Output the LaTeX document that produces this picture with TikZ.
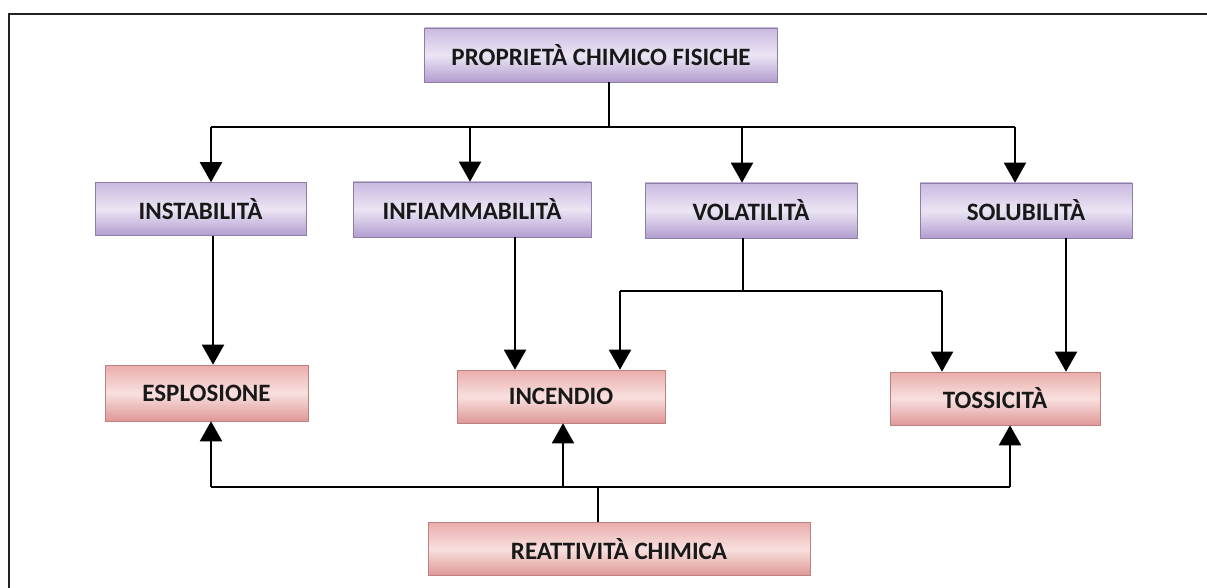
\documentclass[tikz,border=0pt]{standalone}
\usepackage{fontspec}
\setmainfont{Carlito}
\usetikzlibrary{arrows.meta}
\definecolor{pTop}{HTML}{C9B9E0}
\definecolor{pMid}{HTML}{ECE5F4}
\definecolor{pBot}{HTML}{B29DD0}
\definecolor{rTop}{HTML}{E9ADAB}
\definecolor{rMid}{HTML}{F8E0DF}
\definecolor{rBot}{HTML}{DE9896}
\definecolor{frameC}{HTML}{222222}
\tikzset{
  box/.style={rectangle, inner sep=0pt, font=\fontsize{25}{25}\selectfont\bfseries, text=black!90},
  pbox/.style={box, top color=pTop, bottom color=pBot, middle color=pMid, draw=pBot!80!black, line width=0.6pt},
  rbox/.style={box, top color=rTop, bottom color=rBot, middle color=rMid, draw=rBot!85!black, line width=0.6pt},
  conn/.style={line width=2pt, black},
  arr/.style={conn, -{Triangle[width=22pt,length=20pt]}},
}
\begin{document}
\begin{tikzpicture}[x=1pt,y=-1pt]
\useasboundingbox (0,0) rectangle (1207,588);
% open frame
\draw[frameC, line width=2pt] (8.5,588) -- (8.5,14) -- (1207,14);
% nodes
\node[pbox, minimum width=353pt, minimum height=54pt] (top) at (601,55) {PROPRIETÀ CHIMICO FISICHE};
\node[pbox, minimum width=211pt, minimum height=53pt] (inst) at (200.5,209) {INSTABILITÀ};
\node[pbox, minimum width=238pt, minimum height=55pt] (infi) at (472,209.5) {INFIAMMABILITÀ};
\node[pbox, minimum width=212pt, minimum height=55pt] (vol) at (751,210.5) {VOLATILITÀ};
\node[pbox, minimum width=212pt, minimum height=55pt] (sol) at (1026,210.5) {SOLUBILITÀ};
\node[rbox, minimum width=203pt, minimum height=56pt] (espl) at (206.5,393) {ESPLOSIONE};
\node[rbox, minimum width=208pt, minimum height=53pt] (inc) at (561,396.5) {INCENDIO};
\node[rbox, minimum width=210pt, minimum height=53pt] (toss) at (995,398.5) {TOSSICITÀ};
\node[rbox, minimum width=382pt, minimum height=53pt] (reatt) at (619,549) {REATTIVITÀ CHIMICA};
% coordinates
\coordinate (j1) at (609,127);
\coordinate (a1) at (211,127);
\coordinate (a2) at (470,127);
\coordinate (a3) at (742,127);
\coordinate (a4) at (1015,127);
\coordinate (v1) at (743,291);
\coordinate (vl) at (620,291);
\coordinate (vr) at (942,291);
\coordinate (b0) at (598,487);
\coordinate (bl) at (211,487);
\coordinate (bm) at (563,487);
\coordinate (br) at (1010,487);
% top tree
\draw[conn] (top.south -| j1) -- (j1);
\draw[conn] (a1) -- (a4);
\draw[arr] (a1) -- (inst.north -| a1);
\draw[arr] (a2) -- (infi.north -| a2);
\draw[arr] (a3) -- (vol.north -| a3);
\draw[arr] (a4) -- (sol.north -| a4);
% middle
\draw[arr] (inst.south -| 213,0) -- (espl.north -| 213,0);
\draw[arr] (infi.south -| 515,0) -- (inc.north -| 515,0);
\draw[arr] (sol.south -| 1066,0) -- (toss.north -| 1066,0);
\draw[conn] (vol.south -| v1) -- (v1);
\draw[conn] (vl) -- (vr);
\draw[arr] (vl) -- (inc.north -| vl);
\draw[arr] (vr) -- (toss.north -| vr);
% bottom
\draw[conn] (reatt.north -| b0) -- (b0);
\draw[conn] (bl) -- (br);
\draw[arr] (bl) -- (espl.south -| bl);
\draw[arr] (bm) -- (inc.south -| bm);
\draw[arr] (br) -- (toss.south -| br);
\end{tikzpicture}
\end{document}
